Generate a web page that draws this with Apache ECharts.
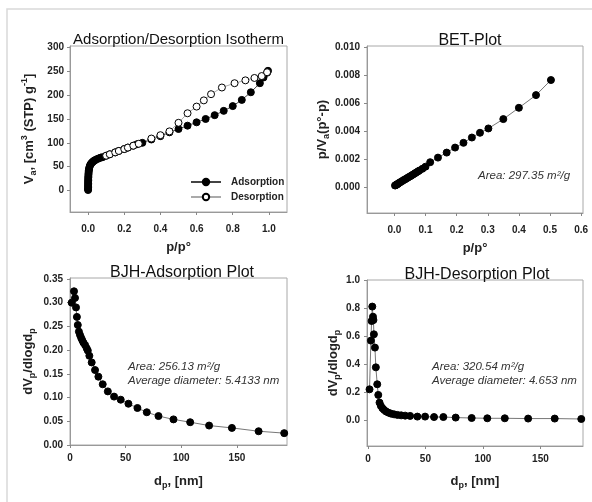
<!DOCTYPE html>
<html>
<head>
<meta charset="utf-8">
<script src="https://cdn.jsdelivr.net/npm/echarts@6/dist/echarts.min.js"></script>
<style>html,body{margin:0;padding:0;background:#fff;}#c{width:592px;height:502px;}</style>
</head>
<body>
<div id="c"></div>
<script>
// ---------- Data ----------
const isoAdsX = [0.00005,0.0001,0.00015,0.0002,0.0003,0.0004,0.0005,0.0007,0.0009,0.0012,0.0015,0.002,0.0025,0.003,0.004,0.005,0.007,0.009,0.012,0.016,0.02,0.025,0.03,0.035,0.04,0.05,0.06,0.07,0.08,0.1,0.12,0.15,0.17,0.2,0.22,0.25,0.27,0.3,0.35,0.4,0.45,0.5,0.55,0.6,0.65,0.7,0.75,0.8,0.85,0.9,0.95,0.97,0.99,0.995];
const isoAdsY = [1,3,6,9,12,15,18,21,24,27,30,33,36,39,42,45,48,51,54,56,58,60,61.5,63,64,66,67.5,69,70,73,76,80,83,87,90,94,97,100,107,114,122,129,136,143,150,158,167,177,190,206,225,237,247,251];
const isoDesX = [0.1,0.12,0.15,0.17,0.2,0.22,0.25,0.28,0.35,0.4,0.45,0.5,0.55,0.6,0.64,0.68,0.74,0.81,0.87,0.92,0.96,0.99];
const isoDesY = [73,76,80,83,87,90,94,98,109,116,124,142,162,176,189,202,216,225,231,236,240,248];

const betX = [0.002,0.004,0.006,0.008,0.01,0.013,0.016,0.02,0.025,0.03,0.035,0.04,0.045,0.05,0.055,0.06,0.065,0.07,0.075,0.08,0.09,0.1,0.115,0.14,0.168,0.195,0.222,0.249,0.275,0.302,0.35,0.4,0.455,0.503];
const betY = [0.0001,0.00012,0.00015,0.00018,0.0002,0.00025,0.0003,0.00035,0.00042,0.00049,0.00055,0.00062,0.00069,0.00075,0.00082,0.00089,0.00096,0.00103,0.0011,0.00117,0.0013,0.00145,0.00177,0.0021,0.00246,0.00282,0.00316,0.00354,0.00388,0.00419,0.00486,0.00567,0.00658,0.00766];

const bjhAdsX = [1.5,3.6,4.5,5.4,6.2,7,8,9,10,11,12,13.5,15,16,17.4,19.5,22.5,25.5,29.4,34,39.6,45.6,52.5,60.6,69,79.5,93,108,125,145.5,169.5,192.5];
const bjhAdsY = [0.300,0.324,0.310,0.290,0.270,0.253,0.239,0.232,0.226,0.221,0.216,0.211,0.204,0.199,0.188,0.174,0.158,0.144,0.128,0.113,0.102,0.0955,0.087,0.078,0.069,0.061,0.054,0.048,0.041,0.036,0.029,0.025];

const bjhDesX = [1.4,2.6,3.2,3.8,4.4,4.8,5.2,6.1,6.9,8.1,9,10.1,11.3,12.7,14.2,15.9,17.9,20.2,22.8,25.7,28.9,32.4,36.7,43,49.7,57.5,65.6,76.3,90.2,103.8,119,139.3,162.4,185.5];
const bjhDesY = [0.219,0.567,0.707,0.81,0.738,0.714,0.612,0.517,0.376,0.255,0.179,0.124,0.1,0.083,0.071,0.06,0.052,0.045,0.04,0.036,0.033,0.031,0.029,0.024,0.024,0.021,0.021,0.017,0.014,0.012,0.012,0.01,0.01,0.007];

// Tick labels
const isoXTicks = [0,0.2,0.4,0.6,0.8,1.0];
const isoYTicks = [0,50,100,150,200,250,300];
const betXTicks = [0,0.1,0.2,0.3,0.4,0.5,0.6];
const betYTicks = [0,0.002,0.004,0.006,0.008,0.010];
const bjhAdsXTicks = [0,50,100,150];
const bjhAdsYTicks = [0,0.05,0.10,0.15,0.20,0.25,0.30,0.35];
const bjhDesXTicks = [0,50,100,150];
const bjhDesYTicks = [0,0.2,0.4,0.6,0.8,1.0];

const titles = ['Adsorption/Desorption Isotherm','BET-Plot','BJH-Adsorption Plot','BJH-Desorption Plot'];
const notes = ['Area: 297.35 m\u00b2/g','Area: 256.13 m\u00b2/g','Average diameter: 5.4133 nm','Area: 320.54 m\u00b2/g','Average diameter: 4.653 nm'];

// ---------- Helpers ----------
const FONT = '"Liberation Sans", Arial, sans-serif';
const TXT = '#222';
const zip = (xs, ys) => xs.map((x, i) => [x, ys[i]]);
const rich = {
  m: {fontSize: 13, fontWeight: 'bold', color: TXT, lineHeight: 18, fontFamily: FONT},
  s: {fontSize: 9, fontWeight: 'bold', color: TXT, lineHeight: 9, verticalAlign: 'bottom', fontFamily: FONT},
  u: {fontSize: 9, fontWeight: 'bold', color: TXT, lineHeight: 9, verticalAlign: 'top', fontFamily: FONT}
};
function axis(gi, kind, min, max, ticks, dec, name, gap, lblMargin) {
  return {
    type: 'value', gridIndex: gi, min: min, max: max,
    name: name, nameLocation: 'middle', nameGap: gap,
    nameTextStyle: {rich: rich},
    splitLine: {show: false},
    axisLine: {show: true, onZero: false, lineStyle: {color: '#999', width: 1}},
    axisTick: {show: true, inside: false, length: 3, customValues: ticks, lineStyle: {color: '#888'}},
    axisLabel: {customValues: ticks, margin: lblMargin, fontSize: 10, fontWeight: 'bold', color: TXT, fontFamily: FONT,
      formatter: v => Number(v).toFixed(dec)}
  };
}
function scatterLine(name, xi, data, fill, lineColor) {
  return {
    name: name, type: 'line', xAxisIndex: xi, yAxisIndex: xi, data: data,
    symbol: 'circle', symbolSize: 7, showSymbol: true,
    lineStyle: {color: lineColor, width: 1},
    itemStyle: {color: fill, borderColor: '#000', borderWidth: 1},
    emphasis: {disabled: true}, animation: false
  };
}

const grids = [
  {left: 70, top: 46, width: 217, height: 166},
  {left: 367, top: 46, width: 216, height: 167},
  {left: 70, top: 278, width: 217, height: 167},
  {left: 367, top: 280, width: 216, height: 166}
].map(g => Object.assign(g, {show: true, borderColor: '#a8a8a8', borderWidth: 1, backgroundColor: 'transparent'}));

const option = {
  animation: false,
  backgroundColor: '#fff',
  textStyle: {fontFamily: FONT},
  grid: grids,
  xAxis: [
    axis(0, 'x', -0.1, 1.1, isoXTicks, 1, '{m|p/p\u00b0}', 26, 12),
    axis(1, 'x', -0.088, 0.606, betXTicks, 1, '{m|p/p\u00b0}', 26, 12),
    axis(2, 'x', 0, 195, bjhAdsXTicks, 0, '{m|d}{s|p}{m|, [nm]}', 27, 8),
    axis(3, 'x', -0.8, 187, bjhDesXTicks, 0, '{m|d}{s|p}{m|, [nm]}', 26, 8)
  ],
  yAxis: [
    axis(0, 'y', -45, 303, isoYTicks, 0, '{m|V}{s|a}{m|, [cm}{u|3}{m| (STP) g}{u|-1}{m|]}', 32, 6),
    axis(1, 'y', -0.00187, 0.0101, betYTicks, 3, '{m|p/V}{s|a}{m|(p\u00b0-p)}', 35, 7),
    axis(2, 'y', 0, 0.352, bjhAdsYTicks, 2, '{m|dV}{s|p}{m|/dlogd}{s|p}', 33, 7),
    axis(3, 'y', -0.186, 1.0, bjhDesYTicks, 1, '{m|dV}{s|p}{m|/dlogd}{s|p}', 25, 7)
  ],
  legend: {
    data: ['Adsorption', 'Desorption'], orient: 'vertical', left: 185, top: 172,
    itemWidth: 30, itemHeight: 8, itemGap: 5,
    textStyle: {fontSize: 10, fontWeight: 'bold', color: TXT, fontFamily: FONT, padding: [0, 0, 0, 5]}
  },
  series: [
    scatterLine('Adsorption', 0, zip(isoAdsX, isoAdsY), '#000', '#444'),
    scatterLine('Desorption', 0, zip(isoDesX, isoDesY), '#fff', '#aaa'),
    scatterLine('bet', 1, zip(betX, betY), '#000', '#777'),
    scatterLine('bjhA', 2, zip(bjhAdsX, bjhAdsY), '#000', '#777'),
    scatterLine('bjhD', 3, zip(bjhDesX, bjhDesY), '#000', '#777')
  ],
  graphic: [
    {type: 'rect', shape: {x: 7, y: 9, width: 620, height: 520}, style: {fill: 'none', stroke: '#d9d9d9', lineWidth: 1.5}, silent: true},
    {type: 'text', x: 178.5, y: 40, style: {text: titles[0], font: '15px ' + FONT, fill: '#111', textAlign: 'center', textVerticalAlign: 'middle'}},
    {type: 'text', x: 470, y: 41, style: {text: titles[1], font: '16px ' + FONT, fill: '#111', textAlign: 'center', textVerticalAlign: 'middle'}},
    {type: 'text', x: 182, y: 273, style: {text: titles[2], font: '16px ' + FONT, fill: '#111', textAlign: 'center', textVerticalAlign: 'middle'}},
    {type: 'text', x: 477, y: 275, style: {text: titles[3], font: '16px ' + FONT, fill: '#111', textAlign: 'center', textVerticalAlign: 'middle'}},
    {type: 'text', x: 478, y: 176, style: {text: notes[0], font: 'italic 11.5px ' + FONT, fill: '#333', textAlign: 'left', textVerticalAlign: 'middle'}},
    {type: 'text', x: 128, y: 367, style: {text: notes[1], font: 'italic 11.5px ' + FONT, fill: '#333', textAlign: 'left', textVerticalAlign: 'middle'}},
    {type: 'text', x: 128, y: 381, style: {text: notes[2], font: 'italic 11.5px ' + FONT, fill: '#333', textAlign: 'left', textVerticalAlign: 'middle'}},
    {type: 'text', x: 432, y: 367, style: {text: notes[3], font: 'italic 11.5px ' + FONT, fill: '#333', textAlign: 'left', textVerticalAlign: 'middle'}},
    {type: 'text', x: 432, y: 381, style: {text: notes[4], font: 'italic 11.5px ' + FONT, fill: '#333', textAlign: 'left', textVerticalAlign: 'middle'}}
  ]
};

const chart = echarts.init(document.getElementById('c'), null, {renderer: 'canvas'});
chart.setOption(option);
</script>
</body>
</html>
